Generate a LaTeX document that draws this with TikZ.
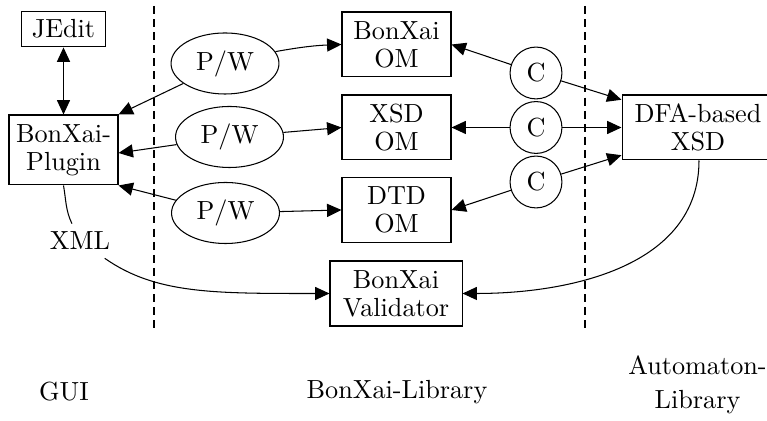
\documentclass[tikz,border=0pt]{standalone}
\usetikzlibrary{arrows.meta,shapes.geometric,calc}
\begin{document}
\begin{tikzpicture}[x=0.3817pt,y=0.3817pt,
  every node/.style={font={\fontsize{10}{10.7}\selectfont}, align=center},
  box/.style={draw, rectangle, inner sep=0pt, minimum width=41.6pt, minimum height=24.8pt},
  pw/.style={draw, ellipse, inner sep=0pt, minimum width=41.2pt, minimum height=23.3pt},
  conv/.style={draw, circle, inner sep=0pt, minimum size=19.8pt},
  arr/.style={-{Triangle[length=5.5pt,width=5pt]}},
  darr/.style={{Triangle[length=5.5pt,width=5pt]}-{Triangle[length=5.5pt,width=5pt]}},
  sep/.style={dash pattern=on 3pt off 2pt}]
\useasboundingbox (0,0) rectangle (767,-421);
% separators
\draw[sep] (154,-6) coordinate (s1a) -- (154,-333) coordinate (s1b);
\draw[sep] (585,-6) coordinate (s2a) -- (585,-333) coordinate (s2b);
% nodes
\node[box, minimum width=31.7pt, minimum height=13.7pt] (jedit) at (63.5,-29) {JEdit};
\node[box, minimum height=26.7pt] (plug) at (63.5,-150) {BonXai-\\Plugin};
\node[pw] (pw1) at (225,-63.5) {P/W};
\node[pw] (pw2) at (229.5,-137) {P/W};
\node[pw] (pw3) at (225.5,-213) {P/W};
\node[box] (bom) at (396.5,-44.5) {BonXai\\OM};
\node[box] (xom) at (396.5,-127.5) {XSD\\OM};
\node[box] (dom) at (396.5,-210) {DTD\\OM};
\node[box, minimum width=50.4pt] (val) at (396,-293.5) {BonXai\\Validator};
\node[conv] (c1) at (536,-73) {C};
\node[conv] (c2) at (536,-127.5) {C};
\node[conv] (c3) at (536,-182) {C};
\node[box, minimum width=58pt] (dfa) at (698,-127.5) {DFA-based\\XSD};
\node[inner sep=3pt] (xml) at (80,-241) {XML};
\node (gui) at (64,-392) {GUI};
\node (lib) at (397,-392) {BonXai-Library};
\node[font={\fontsize{10}{13}\selectfont}] (auto) at (697.5,-385) {Automaton-\\Library};
% connectors
\draw[darr] (jedit) -- (plug);
\draw[arr] (pw1) -- (plug.north east);
\draw[arr] (pw2) -- ($(plug.east)+(0,-3)$);
\draw[arr] (pw3) -- (plug.south east);
\draw[arr] (pw1) to[bend left=4] (bom.west);
\draw[arr] (pw2) -- (xom.west);
\draw[arr] (pw3) -- (dom.west);
\draw[arr] (c1) -- (bom.east);
\draw[arr] (c2) -- (xom.east);
\draw[arr] (c3) -- (dom.east);
\draw[arr] (c1) -- ($(dfa.north west)!0.08!(dfa.south west)$);
\draw[arr] (c2) -- (dfa.west);
\draw[arr] (c3) -- ($(dfa.north west)!0.92!(dfa.south west)$);
\draw[arr] ($(dfa.south)+(1,0)$) to[out=-90,in=0] (val.east);
\draw (plug.south) to[out=-80,in=115] (xml);
\draw[arr] (xml) to[out=-35,in=180,out looseness=0.7,in looseness=1.3] (val.west);
\end{tikzpicture}
\end{document}
